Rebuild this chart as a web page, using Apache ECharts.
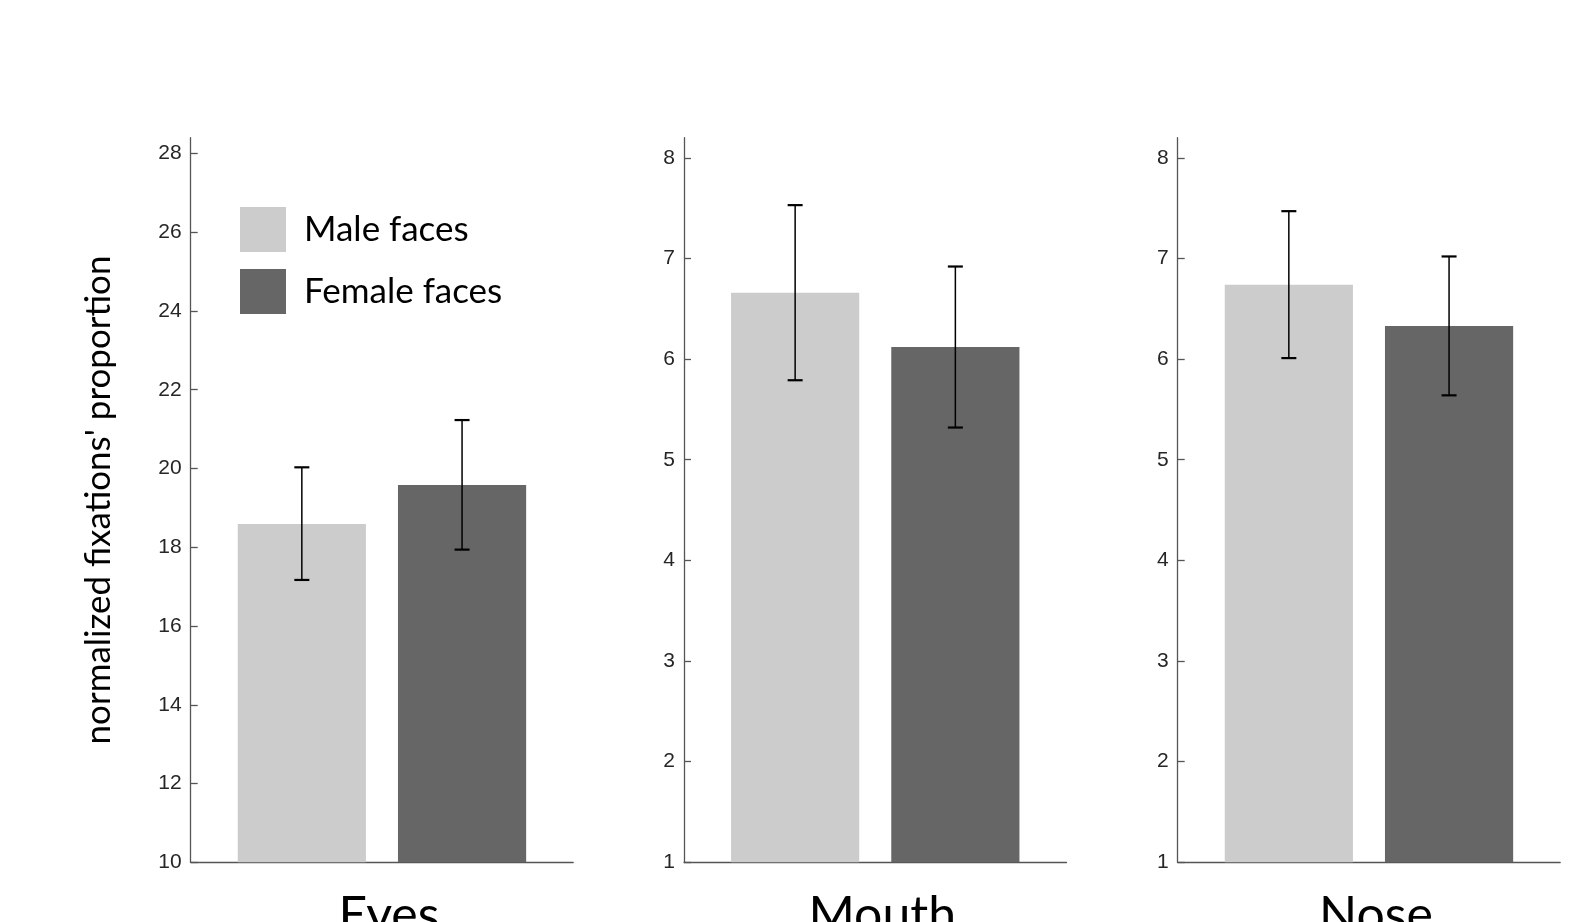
<!DOCTYPE html>
<html>
<head>
<meta charset="utf-8">
<script src="https://cdn.jsdelivr.net/npm/echarts@6/dist/echarts.min.js"></script>
<style>html,body{margin:0;padding:0;background:#fff;overflow:hidden}#c{width:1569px;height:922px}</style>
</head>
<body>
<div id="c"></div>
<script>
const regions = ['Eyes', 'Mouth', 'Nose'];
const seriesNames = ['Male faces', 'Female faces'];
const maleMeans = [18.59, 6.66, 6.74];
const femaleMeans = [19.58, 6.12, 6.33];
const maleLow = [17.17, 5.79, 6.01];
const maleHigh = [20.03, 7.53, 7.47];
const femaleLow = [17.94, 5.32, 5.64];
const femaleHigh = [21.23, 6.92, 7.02];
const yMin = [10, 1, 1];
const yMax = [28.4, 8.2, 8.2];
const yTicks = [[10,12,14,16,18,20,22,24,26,28],[1,2,3,4,5,6,7,8],[1,2,3,4,5,6,7,8]];
const yName = "normalized fixations' proportion";

const colors = ['#cccccc', '#666666'];
const axisColor = '#555555';
const gridLefts = [190.7, 684, 1177.7];
const gridWidth = 382.5;
const BAR_GAP = 0.25, CAT_GAP = 0.246;

const chart = echarts.init(document.getElementById('c'));
const grid = [], xAxis = [], yAxis = [], series = [];
regions.forEach((r, i) => {
  grid.push({left: gridLefts[i], width: gridWidth, top: 137.7, height: 724.6, containLabel: false, outerBoundsMode: 'none'});
  xAxis.push({
    type: 'category', gridIndex: i, data: [r],
    axisLine: {lineStyle: {color: axisColor, width: 1.3}},
    axisTick: {show: false},
    axisLabel: {color: '#000', fontFamily: 'Lato', fontSize: 50, margin: 29, padding: [0, 0, 0, 14]}
  });
  yAxis.push({
    type: 'value', gridIndex: i, min: yMin[i], max: yMax[i],
    name: i === 0 ? yName : '',
    nameLocation: 'middle', nameGap: 74,
    nameTextStyle: {color: '#000', fontFamily: 'Lato', fontSize: 35},
    axisLine: {show: true, lineStyle: {color: axisColor, width: 1.3}},
    axisTick: {show: true, inside: true, length: 7, customValues: yTicks[i], lineStyle: {color: axisColor, width: 1.3}},
    axisLabel: {customValues: yTicks[i], color: '#262626', fontFamily: 'Liberation Sans', fontSize: 21, margin: 9},
    splitLine: {show: false}
  });
  const means = [maleMeans[i], femaleMeans[i]];
  const lows = [maleLow[i], femaleLow[i]];
  const highs = [maleHigh[i], femaleHigh[i]];
  seriesNames.forEach((n, k) => {
    series.push({
      name: n, type: 'bar', xAxisIndex: i, yAxisIndex: i,
      data: [means[k]], barGap: (BAR_GAP*100)+'%', barCategoryGap: (CAT_GAP*100)+'%',
      itemStyle: {color: colors[k]}, silent: true
    });
  });
  series.push({
    type: 'custom', xAxisIndex: i, yAxisIndex: i, silent: true, z: 10,
    data: [[0, lows[0], highs[0], 0], [0, lows[1], highs[1], 1]],
    renderItem: function (params, api) {
      const band = api.size([1, 0])[0];
      const w = band * (1 - CAT_GAP) / (2 + BAR_GAP);
      const off = (w + BAR_GAP * w) / 2 * (api.value(3) === 0 ? -1 : 1);
      const lo = api.coord([api.value(0), api.value(1)]);
      const hi = api.coord([api.value(0), api.value(2)]);
      const x = lo[0] + off;
      const cw = 7.5;
      const st = {stroke: '#000', lineWidth: 1.5};
      return {type: 'group', children: [
        {type: 'line', shape: {x1: x, y1: lo[1], x2: x, y2: hi[1]}, style: st},
        {type: 'line', shape: {x1: x - cw, y1: lo[1], x2: x + cw, y2: lo[1]}, style: {stroke: '#000', lineWidth: 2.2}},
        {type: 'line', shape: {x1: x - cw, y1: hi[1], x2: x + cw, y2: hi[1]}, style: {stroke: '#000', lineWidth: 2.2}}
      ]};
    }
  });
});

chart.setOption({
  animation: false,
  backgroundColor: '#fff',
  legend: {
    data: seriesNames, orient: 'vertical', left: 235, top: 202,
    itemWidth: 46, itemHeight: 45, itemGap: 17,
    icon: 'rect',
    textStyle: {color: '#000', fontFamily: 'Lato', fontSize: 35, padding: [0, 0, 0, 13]}
  },
  grid, xAxis, yAxis, series
});
</script>
</body>
</html>
